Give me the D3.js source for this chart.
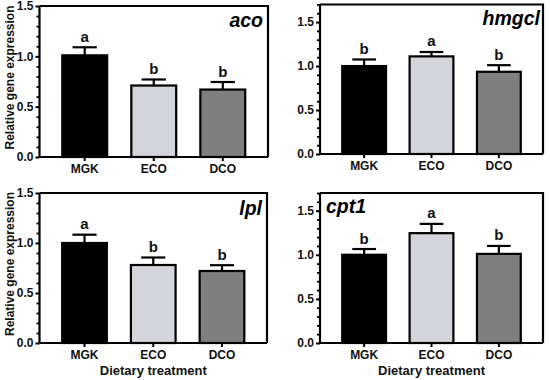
<!DOCTYPE html>
<html><head><meta charset="utf-8">
<script src="https://cdn.jsdelivr.net/npm/d3@7"></script>
<style>
body{margin:0;background:#fff;}
text{font-family:"Liberation Sans",Arial,sans-serif;font-weight:bold;}
</style></head>
<body><svg id="c" width="550" height="380"></svg>
<script>
const categories = ["MGK", "ECO", "DCO"];
const genes = ["aco", "hmgcl", "lpl", "cpt1"];
const acoMeans = [1.01, 0.71, 0.67];
const acoSem = [0.08, 0.06, 0.075];
const acoLetters = ["a", "b", "b"];
const hmgclMeans = [1.0, 1.11, 0.935];
const hmgclSem = [0.075, 0.05, 0.075];
const hmgclLetters = ["b", "a", "b"];
const lplMeans = [1.0, 0.78, 0.72];
const lplSem = [0.083, 0.075, 0.058];
const lplLetters = ["a", "b", "b"];
const cpt1Means = [1.0, 1.245, 1.01];
const cpt1Sem = [0.065, 0.105, 0.09];
const cpt1Letters = ["b", "a", "b"];
const yMaxes = [1.5, 1.7, 1.5, 1.7];
const yTicks = [0, 0.5, 1.0, 1.5];
const yLabel = "Relative gene expression";
const xLabel = "Dietary treatment";

const colors = ["#000000", "#d4d5da", "#7f7f7f"];
const svg = d3.select("#c");

const panels = [
  {gene: genes[0], means: acoMeans, sem: acoSem, letters: acoLetters, yMax: yMaxes[0],
   box: {l: 39.5, r: 268, t: 6, b: 157}, title: {x: 263, y: 27, anchor: "end"}, ylab: true, xlab: false},
  {gene: genes[1], means: hmgclMeans, sem: hmgclSem, letters: hmgclLetters, yMax: yMaxes[1],
   box: {l: 320, r: 543, t: 4.5, b: 154}, title: {x: 540, y: 25, anchor: "end"}, ylab: false, xlab: false},
  {gene: genes[2], means: lplMeans, sem: lplSem, letters: lplLetters, yMax: yMaxes[2],
   box: {l: 39.5, r: 267, t: 193, b: 343}, title: {x: 262, y: 215, anchor: "end"}, ylab: true, xlab: true},
  {gene: genes[3], means: cpt1Means, sem: cpt1Sem, letters: cpt1Letters, yMax: yMaxes[3],
   box: {l: 320, r: 543, t: 193, b: 343}, title: {x: 326, y: 213, anchor: "start"}, ylab: false, xlab: true}
];

panels.forEach(p => {
  const B = p.box;
  const g = svg.append("g");
  const x = d3.scaleBand().domain(categories).range([B.l, B.r]).paddingInner(0.35).paddingOuter(0.33);
  const y = d3.scaleLinear().domain([0, p.yMax]).range([B.b, B.t]);

  // bars
  g.selectAll("rect.bar").data(categories).join("rect")
    .attr("x", d => x(d)).attr("width", x.bandwidth())
    .attr("y", (d, i) => y(p.means[i])).attr("height", (d, i) => y(0) - y(p.means[i]))
    .attr("fill", (d, i) => colors[i]).attr("stroke", "#000").attr("stroke-width", 2.2);

  // error bars
  const cap = x.bandwidth() * 0.27;
  categories.forEach((c, i) => {
    const cx = x(c) + x.bandwidth() / 2;
    const top = y(p.means[i] + p.sem[i]);
    g.append("line").attr("x1", cx).attr("x2", cx).attr("y1", y(p.means[i])).attr("y2", top)
      .attr("stroke", "#000").attr("stroke-width", 2.2);
    g.append("line").attr("x1", cx - cap).attr("x2", cx + cap).attr("y1", top).attr("y2", top)
      .attr("stroke", "#000").attr("stroke-width", 2.2);
    g.append("text").attr("x", cx).attr("y", top - 5.5).attr("text-anchor", "middle")
      .attr("font-size", 15).attr("fill", "#111").text(p.letters[i]);
  });

  // box top/right
  g.append("path").attr("d", `M${B.l},${B.t}H${B.r}V${B.b}`).attr("fill", "none")
    .attr("stroke", "#000").attr("stroke-width", 2.2);

  // y axis
  const minor = d3.range(0, p.yMax + 1e-6, 0.1).filter(v => Math.abs(v * 2 - Math.round(v * 2)) > 1e-6);
  const yMinor = d3.axisLeft(y).tickValues(minor).tickSize(3).tickFormat("");
  const gm = g.append("g").attr("transform", `translate(${B.l},0)`).call(yMinor);
  gm.select(".domain").remove();
  gm.selectAll("line").attr("stroke-width", 1.8);
  const yAxis = d3.axisLeft(y).tickValues(yTicks).tickSize(4).tickPadding(2).tickFormat(d3.format(".1f"));
  const ga = g.append("g").attr("transform", `translate(${B.l},0)`).call(yAxis);
  ga.select(".domain").attr("d", `M0,${B.t}V${B.b}`).attr("stroke-width", 2.2);
  ga.selectAll("line").attr("stroke-width", 2);
  ga.selectAll("text").attr("font-size", 12).attr("fill", "#111")
    .style("font-family", "'Liberation Sans',Arial,sans-serif").style("font-weight", "bold");

  // x axis
  const xAxis = d3.axisBottom(x).tickSize(4).tickPadding(3);
  const gx = g.append("g").attr("transform", `translate(0,${B.b})`).call(xAxis);
  gx.select(".domain").attr("d", `M${B.l},0H${B.r}`).attr("stroke-width", 2.2);
  gx.selectAll("line").attr("stroke-width", 2);
  gx.selectAll("text").attr("font-size", 12).attr("fill", "#111")
    .style("font-family", "'Liberation Sans',Arial,sans-serif").style("font-weight", "bold");

  // title
  g.append("text").attr("x", p.title.x).attr("y", p.title.y).attr("text-anchor", p.title.anchor)
    .attr("font-size", 19.5).attr("font-style", "italic").attr("fill", "#000").text(p.gene);

  if (p.ylab) {
    const cy = (B.t + B.b) / 2 - 4;
    g.append("text").attr("transform", `translate(14,${cy}) rotate(-90)`).attr("text-anchor", "middle")
      .attr("font-size", 12).attr("fill", "#111").text(yLabel);
  }
  if (p.xlab) {
    g.append("text").attr("x", (B.l + B.r) / 2).attr("y", 375).attr("text-anchor", "middle")
      .attr("font-size", 13).attr("fill", "#111").text(xLabel);
  }
});
</script></body></html>
